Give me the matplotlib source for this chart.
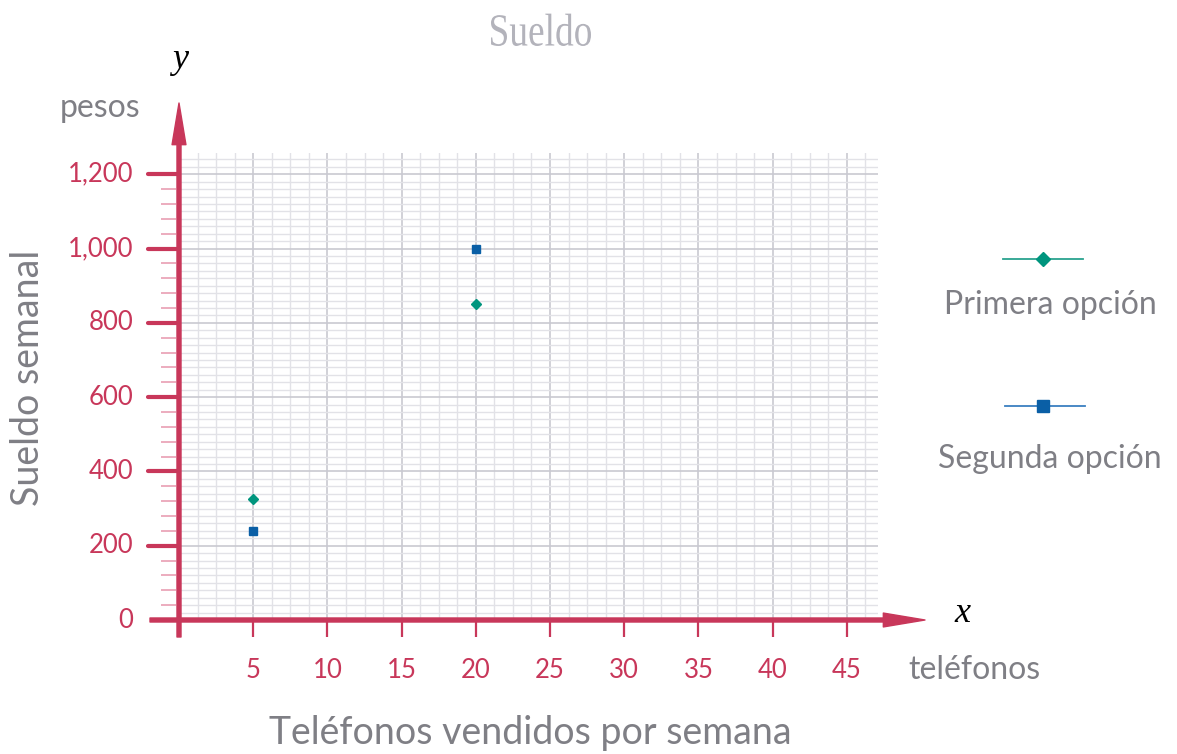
import numpy as np
import matplotlib
matplotlib.use("Agg")
import matplotlib.pyplot as plt
from matplotlib.lines import Line2D
from matplotlib.textpath import TextPath
from matplotlib.patches import PathPatch
from matplotlib.font_manager import FontProperties
from matplotlib.transforms import Affine2D, IdentityTransform

# Weekly salary versus phones sold
phones = [5, 20]
primera_opcion = [325, 850]
segunda_opcion = [240, 1000]

x_ticks = [5, 10, 15, 20, 25, 30, 35, 40, 45]
y_ticks = [0, 200, 400, 600, 800, 1000, 1200]
y_tick_labels = ["0", "200", "400", "600", "800", "1,000", "1,200"]

W, H = 1177, 754
CRIMSON = "#c8375a"
PINK = "#eaa6b9"
GRAY_TXT = "#7f7f85"
GREEN = "#00957e"
BLUE = "#0a5fa6"
FONT = "Lato"

fig = plt.figure(figsize=(W / 100, H / 100), dpi=100)
fig.patch.set_facecolor("white")


def fx(px):
    return px / W


def fy(py):
    return 1 - py / H


# plotting region (data origin at the axis crossing)
x_max, y_max = 47.1, 1258
ax = fig.add_axes([fx(179), fy(620), fx(878) - fx(179), fy(152.7) - fy(620)])
ax.set_xlim(0, x_max)
ax.set_ylim(0, y_max)
ax.axis("off")

px_x = (878 - 179) / x_max      # pixels per x unit
px_y = (620 - 152.7) / y_max    # pixels per y unit

# grid: fine lines every 1.25 phones / 20 pesos, stronger every 5 / 200
for v in np.arange(1.25, 46.3, 1.25):
    major = abs(v / 5 - round(v / 5)) < 1e-9
    ax.plot([v, v], [0, y_max], color="#c9c9d1" if major else "#e2e2e7",
            lw=1.2 if major else 1.0, zorder=1)
for h in np.arange(20, 1241, 20):
    major = h % 200 == 0
    ax.plot([0, x_max], [h, h], color="#c9c9d1" if major else "#e2e2e7",
            lw=1.2 if major else 1.0, zorder=1)

# y minor ticks
for t in np.arange(40, 1200, 40):
    if t % 200 == 0:
        continue
    ax.plot([-18 / px_x, -3 / px_x], [t, t], color=PINK, lw=1.3,
            clip_on=False, zorder=2, solid_capstyle="butt")

# y major ticks and labels
for t, lab in zip(y_ticks, y_tick_labels):
    if t > 0:
        ax.plot([-31 / px_x, 0], [t, t], color=CRIMSON, lw=3.0,
                clip_on=False, zorder=3, solid_capstyle="round")
    ax.text(-46 / px_x, t, lab, ha="right", va="center", color=CRIMSON,
            fontsize=18.5, family=FONT)

# x ticks and labels
for t in [0] + x_ticks:
    ax.plot([t, t], [0, -17 / px_y], color=CRIMSON, lw=1.6,
            clip_on=False, zorder=3, solid_capstyle="butt")
for t in x_ticks:
    ax.text(t, -51 / px_y, str(t), ha="center", va="center", color=CRIMSON,
            fontsize=18.5, family=FONT)

# axes with arrow heads
arrow = dict(width=2.9, headwidth=10, headlength=30, shrink=0,
             facecolor=CRIMSON, edgecolor=CRIMSON)
ax.annotate("", xy=(0, (620 - 103) / px_y), xytext=(0, -17 / px_y),
            arrowprops=arrow, annotation_clip=False, zorder=4)
ax.annotate("", xy=((925 - 179) / px_x, 0), xytext=(-29 / px_x, 0),
            arrowprops=arrow, annotation_clip=False, zorder=4)

# data points
ax.plot(phones, primera_opcion, linestyle="none", marker="D", ms=5.5,
        color=GREEN, zorder=5, clip_on=False)
ax.plot(phones, segunda_opcion, linestyle="none", marker="s", ms=6,
        color=BLUE, zorder=5, clip_on=False)

# axis letters
fig.text(fx(180), fy(60), "y", ha="center", va="center", fontsize=26,
         family="Liberation Serif", style="italic", color="black")
fig.text(fx(962), fy(614), "x", ha="center", va="center", fontsize=26,
         family="Liberation Serif", style="italic", color="black")

# condensed serif title
tp = TextPath((0, 0), "Sueldo", size=46,
              prop=FontProperties(family="Liberation Serif"))
ext = tp.get_extents()
sx = 100 / ext.width
title_tf = (Affine2D().translate(-ext.x0 - ext.width / 2, -ext.y0)
            .scale(sx, 1).translate(541, H - 46))
fig.add_artist(PathPatch(tp, transform=title_tf + IdentityTransform(),
                         facecolor="#b3b3bb", edgecolor="none"))

# units and axis titles
fig.text(fx(100), fy(108), "pesos", ha="center", va="center", fontsize=23,
         family=FONT, color=GRAY_TXT)
fig.text(fx(974), fy(670), "teléfonos", ha="center", va="center", fontsize=23,
         family=FONT, color=GRAY_TXT)
fig.text(fx(530), fy(733), "Teléfonos vendidos por semana", ha="center",
         va="center", fontsize=27, family=FONT, color=GRAY_TXT)
fig.text(fx(28), fy(378), "Sueldo semanal", ha="center", va="center",
         rotation=90, fontsize=27, family=FONT, color=GRAY_TXT)

# legend entries
fig.add_artist(Line2D([fx(1003), fx(1083)], [fy(259), fy(259)],
                      color="#2aa38f", lw=1.3))
fig.add_artist(Line2D([fx(1043)], [fy(259)], marker="D", ms=7.5,
                      color=GREEN, linestyle="none"))
fig.text(fx(1050), fy(305), "Primera opción", ha="center", va="center",
         fontsize=23, family=FONT, color=GRAY_TXT)

fig.add_artist(Line2D([fx(1005), fx(1085)], [fy(406), fy(406)],
                      color="#3a7fc0", lw=1.3))
fig.add_artist(Line2D([fx(1043)], [fy(406)], marker="s", ms=8,
                      color=BLUE, linestyle="none"))
fig.text(fx(1050), fy(459), "Segunda opción", ha="center", va="center",
         fontsize=23, family=FONT, color=GRAY_TXT)

fig.savefig("out.png", dpi=100, facecolor="white")
